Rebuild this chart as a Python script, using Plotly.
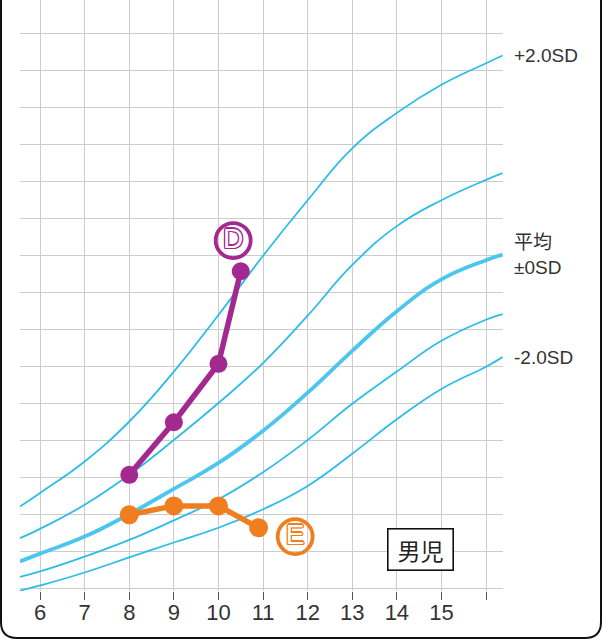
import plotly.graph_objects as go

# ---- data (y in grid units) ----
ages_ref = [5.55, 6, 7, 8, 9, 10, 11, 12, 13, 14, 15, 16, 16.37]
sd_plus2 = [2.22, 2.59, 3.44, 4.52, 5.87, 7.4, 9.0, 10.5, 11.9, 12.86, 13.62, 14.2, 14.41]
sd_plus1 = [1.37, 1.62, 2.27, 3.08, 4.02, 5.02, 6.1, 7.38, 8.75, 9.8, 10.5, 11.05, 11.23]
sd_mean = [0.74, 0.95, 1.41, 2.02, 2.7, 3.4, 4.27, 5.3, 6.43, 7.5, 8.36, 8.88, 9.03]
sd_minus1 = [0.32, 0.47, 0.87, 1.32, 1.85, 2.42, 3.15, 4.02, 5.0, 5.87, 6.7, 7.27, 7.42]
sd_minus2 = [-0.05, 0.09, 0.44, 0.85, 1.25, 1.65, 2.15, 2.78, 3.65, 4.58, 5.4, 6.0, 6.26]

d_ages = [8, 9, 10, 10.5]
d_vals = [3.08, 4.5, 6.08, 8.58]
e_ages = [8, 9, 10, 10.9]
e_vals = [2.0, 2.24, 2.24, 1.65]

tick_ages = [6, 7, 8, 9, 10, 11, 12, 13, 14, 15, 16]
tick_text = ["6", "7", "8", "9", "10", "11", "12", "13", "14", "15", ""]
grid_rows = list(range(0, 16))

sd_labels = ["+2.0SD", "平均<br>±0SD", "-2.0SD"]
d_label, e_label = "D", "E"
sex_label = "男児"
x_title = "年齢（歳）"

# ---- styles ----
CYAN = "#2cbde8"
CYAN_MEAN = "#4cc6ee"
PURPLE = "#a3288f"
ORANGE = "#f07d1e"
TXT = "#333333"
FONT = "Liberation Sans, Arial, Noto Sans CJK JP, sans-serif"

W, H = 609, 642
ML, MR, MT, MB = 20, 106, 0, 51
X_RANGE = [5.55, 16.38]
Y_RANGE = [-0.06, 15.91]

fig = go.Figure()

for vals, width, col in [
    (sd_plus2, 1.8, CYAN),
    (sd_plus1, 1.8, CYAN),
    (sd_mean, 3.8, CYAN_MEAN),
    (sd_minus1, 1.8, CYAN),
    (sd_minus2, 1.8, CYAN),
]:
    fig.add_trace(go.Scatter(
        x=ages_ref, y=vals, mode="lines",
        line=dict(color=col, width=width, shape="spline", smoothing=1.3),
        hoverinfo="skip", showlegend=False,
    ))

fig.add_trace(go.Scatter(
    x=d_ages, y=d_vals, mode="lines+markers",
    line=dict(color=PURPLE, width=5.5),
    marker=dict(color=PURPLE, size=18),
    showlegend=False,
))
fig.add_trace(go.Scatter(
    x=e_ages, y=e_vals, mode="lines+markers",
    line=dict(color=ORANGE, width=5.5),
    marker=dict(color=ORANGE, size=19),
    showlegend=False,
))

# circled labels
def outline(c):
    return (f"1.2px 0 0 {c}, -1.2px 0 0 {c}, 0 1.2px 0 {c}, 0 -1.2px 0 {c}, "
            f"1px 1px 0 {c}, -1px -1px 0 {c}, 1px -1px 0 {c}, -1px 1px 0 {c}")

for lx, ly, lab, col in [(10.33, 9.41, d_label, PURPLE), (11.72, 1.41, e_label, ORANGE)]:
    fig.add_trace(go.Scatter(
        x=[lx], y=[ly], mode="markers+text", text=[lab],
        textposition="middle center",
        textfont=dict(family=FONT, size=28, color="white", shadow=outline(col)),
        marker=dict(symbol="circle-open", size=35, line=dict(color=col, width=3.8), color=col),
        showlegend=False, hoverinfo="skip",
    ))

annotations = []
for lab, vals in zip(sd_labels, [sd_plus2, sd_mean, sd_minus2]):
    annotations.append(dict(
        x=ages_ref[-1], y=vals[-1], xref="x", yref="y", text=lab,
        showarrow=False, xanchor="left", yanchor="middle", xshift=9,
        align="left", font=dict(family=FONT, size=19, color=TXT),
    ))
annotations.append(dict(
    x=14.54, y=1.07, xref="x", yref="y", text=sex_label, showarrow=False,
    font=dict(family="Noto Sans CJK JP", size=23, color="#222"),
    bordercolor="#111", borderwidth=1.6, borderpad=3, bgcolor="white",
    width=58, height=34,
))
annotations.append(dict(
    x=16, y=-0.45, xref="x", yref="y", text=x_title, showarrow=False,
    xanchor="left", yanchor="middle", xshift=1,
    font=dict(family="Noto Sans CJK JP", size=18.5, color=TXT),
))

# rounded frame (decoration) in paper coords
PW, PH = W - ML - MR, H - MT - MB
def P(xp, yp):
    return f"{(xp - ML) / PW:.5f},{(PH + MT - yp) / PH:.5f}"
frame = (f"M {P(601, -10)} L {P(601, 622)} Q {P(601, 638)} {P(585, 638)} "
         f"L {P(17, 638)} Q {P(1, 638)} {P(1, 622)} L {P(1, -10)}")

fig.update_layout(
    width=W, height=H,
    margin=dict(l=ML, r=MR, t=MT, b=MB),
    paper_bgcolor="white", plot_bgcolor="white",
    showlegend=False,
    annotations=annotations,
    shapes=[dict(type="path", path=frame, xref="paper", yref="paper",
                 line=dict(color="#111", width=2), layer="above")],
    xaxis=dict(
        range=X_RANGE, tickmode="array", tickvals=tick_ages, ticktext=tick_text,
        showgrid=True, gridcolor="#cccccc", gridwidth=1,
        ticks="outside", ticklen=8, tickwidth=1.3, tickcolor="#555",
        tickfont=dict(family=FONT, size=22, color=TXT),
        ticklabelstandoff=-6,
        showline=False, zeroline=False, fixedrange=True,
    ),
    yaxis=dict(
        range=Y_RANGE, tickmode="array", tickvals=grid_rows, showticklabels=False,
        showgrid=True, gridcolor="#cccccc", gridwidth=1,
        ticks="", showline=False, zeroline=False, fixedrange=True,
    ),
)

fig.write_html("out.html", config={"displayModeBar": False},
               post_script="document.body.style.margin='0';document.body.style.overflow='hidden';")
